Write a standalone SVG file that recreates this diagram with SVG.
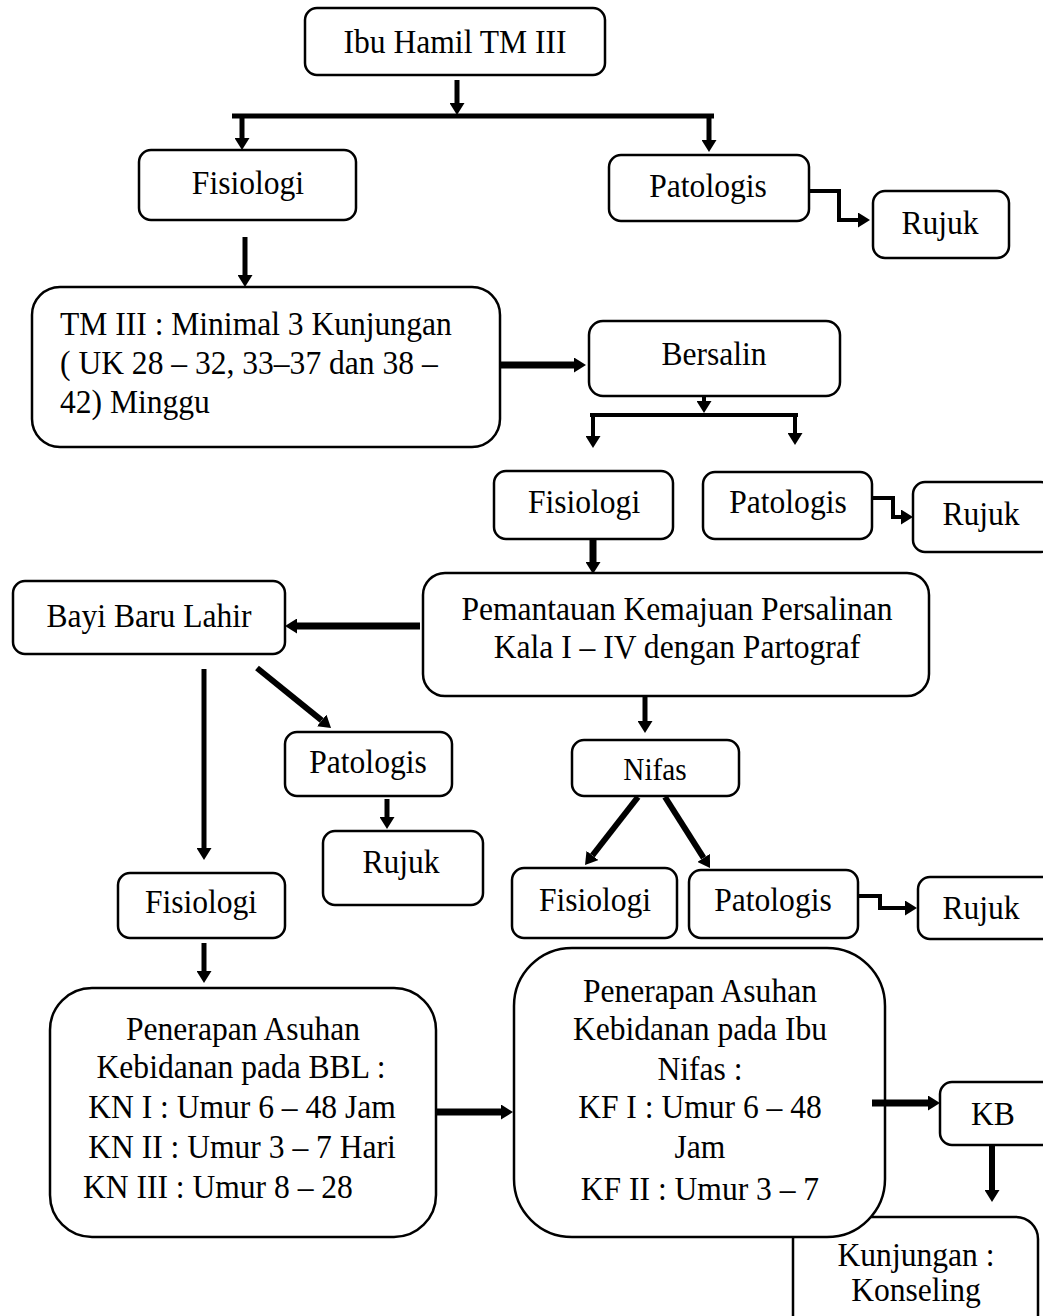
<svg xmlns="http://www.w3.org/2000/svg" width="1043" height="1316" viewBox="0 0 1043 1316">
<style>
.box{fill:#fff;stroke:#000;stroke-width:2.5}
.t{font-family:"Liberation Serif","Times New Roman",serif;font-size:34.5px;fill:#000;text-anchor:middle}
.ts{font-family:"Liberation Serif","Times New Roman",serif;font-size:34.5px;fill:#000;text-anchor:start}
.c{fill:none;stroke:#000;stroke-linejoin:miter}
.a{marker-end:url(#ah)}
</style>
<defs>
<marker id="ah" viewBox="0 0 12 15" markerWidth="12" markerHeight="15" refX="0" refY="7.5" orient="auto" markerUnits="userSpaceOnUse">
<path d="M0,0 L12,7.5 L0,15 z" fill="#000"/>
</marker>
</defs>
<rect width="1043" height="1316" fill="#fff"/>

<g id="kunjungan">
<rect class="box" x="793" y="1217" width="245" height="130" rx="22"/>
<g transform="scale(0.915,1)">
<text class="t" x="1001.1" y="1266">Kunjungan :</text>
<text class="t" x="1001.1" y="1301">Konseling</text>
</g>
</g>

<g id="ibu-hamil">
<rect class="box" x="305" y="8" width="300" height="67" rx="12"/>
<g transform="scale(0.915,1)"><text class="t" x="497.3" y="53">Ibu Hamil TM III</text></g>
</g>
<g id="fisiologi-1">
<rect class="box" x="139" y="150" width="217" height="70" rx="12"/>
<g transform="scale(0.915,1)"><text class="t" x="271" y="194">Fisiologi</text></g>
</g>
<g id="patologis-1">
<rect class="box" x="609" y="155" width="200" height="66" rx="12"/>
<g transform="scale(0.915,1)"><text class="t" x="773.8" y="197">Patologis</text></g>
</g>
<g id="rujuk-1">
<rect class="box" x="873" y="191" width="136" height="67" rx="12"/>
<g transform="scale(0.915,1)"><text class="t" x="1027.3" y="234">Rujuk</text></g>
</g>
<g id="tm-iii">
<rect class="box" x="32" y="287" width="468" height="160" rx="28"/>
<g transform="scale(0.915,1)">
<text class="ts" x="65.6" y="335">TM III : Minimal 3 Kunjungan</text>
<text class="ts" x="65.6" y="374">( UK 28 – 32, 33–37 dan 38 –</text>
<text class="ts" x="65.6" y="413">42) Minggu</text>
</g>
</g>
<g id="bersalin">
<rect class="box" x="589" y="321" width="251" height="75" rx="14"/>
<g transform="scale(0.915,1)"><text class="t" x="780.3" y="365">Bersalin</text></g>
</g>
<g id="fisiologi-2">
<rect class="box" x="494" y="471" width="179" height="68" rx="12"/>
<g transform="scale(0.915,1)"><text class="t" x="638.3" y="513">Fisiologi</text></g>
</g>
<g id="patologis-2">
<rect class="box" x="703" y="472" width="169" height="67" rx="12"/>
<g transform="scale(0.915,1)"><text class="t" x="861.2" y="513">Patologis</text></g>
</g>
<g id="rujuk-2">
<rect class="box" x="913" y="482" width="140" height="70" rx="12"/>
<g transform="scale(0.915,1)"><text class="t" x="1072.1" y="525">Rujuk</text></g>
</g>
<g id="pemantauan">
<rect class="box" x="423" y="573" width="506" height="123" rx="22"/>
<g transform="scale(0.915,1)">
<text class="t" x="739.9" y="620">Pemantauan Kemajuan Persalinan</text>
<text class="t" x="739.9" y="658">Kala I – IV dengan Partograf</text>
</g>
</g>
<g id="bayi-baru-lahir">
<rect class="box" x="13" y="581" width="272" height="73" rx="12"/>
<g transform="scale(0.915,1)"><text class="t" x="162.8" y="627">Bayi Baru Lahir</text></g>
</g>
<g id="patologis-3">
<rect class="box" x="285" y="732" width="167" height="64" rx="12"/>
<g transform="scale(0.915,1)"><text class="t" x="402.2" y="773">Patologis</text></g>
</g>
<g id="rujuk-3">
<rect class="box" x="323" y="831" width="160" height="74" rx="12"/>
<g transform="scale(0.915,1)"><text class="t" x="438.3" y="873">Rujuk</text></g>
</g>
<g id="nifas">
<rect class="box" x="572" y="740" width="167" height="56" rx="12"/>
<g transform="scale(0.915,1)"><text class="t" x="715.8" y="780" style="font-size:32px">Nifas</text></g>
</g>
<g id="fisiologi-3">
<rect class="box" x="118" y="873" width="167" height="65" rx="12"/>
<g transform="scale(0.915,1)"><text class="t" x="219.7" y="913">Fisiologi</text></g>
</g>
<g id="fisiologi-4">
<rect class="box" x="512" y="868" width="165" height="70" rx="12"/>
<g transform="scale(0.915,1)"><text class="t" x="650.3" y="911">Fisiologi</text></g>
</g>
<g id="patologis-4">
<rect class="box" x="689" y="870" width="169" height="68" rx="12"/>
<g transform="scale(0.915,1)"><text class="t" x="844.8" y="911">Patologis</text></g>
</g>
<g id="rujuk-4">
<rect class="box" x="918" y="877" width="140" height="62" rx="12"/>
<g transform="scale(0.915,1)"><text class="t" x="1072.1" y="919">Rujuk</text></g>
</g>
<g id="asuhan-bbl">
<rect class="box" x="50" y="988" width="386" height="249" rx="42"/>
<g transform="scale(0.915,1)">
<text class="t" x="265.6" y="1040">Penerapan Asuhan</text>
<text class="t" x="263.4" y="1078">Kebidanan pada BBL :</text>
<text class="t" x="264.5" y="1118">KN I : Umur 6 – 48 Jam</text>
<text class="t" x="264.5" y="1158">KN II : Umur 3 – 7 Hari</text>
<text class="ts" x="90.7" y="1198">KN III : Umur 8 – 28</text>
</g>
</g>
<g id="asuhan-nifas">
<rect class="box" x="514" y="948" width="371" height="289" rx="58"/>
<g transform="scale(0.915,1)">
<text class="t" x="765" y="1002">Penerapan Asuhan</text>
<text class="t" x="765" y="1040">Kebidanan pada Ibu</text>
<text class="t" x="765" y="1080">Nifas :</text>
<text class="t" x="765" y="1118">KF I : Umur 6 – 48</text>
<text class="t" x="765" y="1158">Jam</text>
<text class="t" x="765" y="1200">KF II : Umur 3 – 7</text>
</g>
</g>
<g id="kb">
<rect class="box" x="940" y="1082" width="115" height="63" rx="12"/>
<g transform="scale(0.915,1)"><text class="t" x="1085.2" y="1125">KB</text></g>
</g>

<g id="connectors">
<path class="c a" d="M457,80 V103" stroke-width="5"/>
<path class="c" d="M232,116 H714" stroke-width="5"/>
<path class="c a" d="M242,118 V138" stroke-width="5"/>
<path class="c a" d="M709,118 V140" stroke-width="5"/>
<path class="c a" d="M245,237 V275" stroke-width="5"/>
<path class="c a" d="M500,365 H574" stroke-width="7"/>
<path class="c a" d="M809,191 H839 V220 H858" stroke-width="4"/>
<path class="c a" d="M704,397 V401" stroke-width="4"/>
<path class="c" d="M590,415 H798" stroke-width="4"/>
<path class="c a" d="M593,415 V436" stroke-width="4"/>
<path class="c a" d="M795,415 V433" stroke-width="4"/>
<path class="c a" d="M872,498 H893 V517 H901" stroke-width="4"/>
<path class="c a" d="M593,540 V562" stroke-width="7"/>
<path class="c a" d="M420,626 H297" stroke-width="7"/>
<path class="c a" d="M204,669 V848" stroke-width="5"/>
<path class="c a" d="M257,668 L321.7,720.4" stroke-width="6"/>
<path class="c a" d="M645,697 V721" stroke-width="5"/>
<path class="c a" d="M387,799 V817" stroke-width="5"/>
<path class="c a" d="M638,797 L592.4,855.5" stroke-width="6"/>
<path class="c a" d="M665,797 L703.6,857.9" stroke-width="6"/>
<path class="c a" d="M858,896 H880 V908 H905" stroke-width="4"/>
<path class="c a" d="M204,943 V971" stroke-width="5"/>
<path class="c a" d="M437,1112 H501" stroke-width="7"/>
<path class="c a" d="M872,1103 H928" stroke-width="7"/>
<path class="c a" d="M992,1145 V1190" stroke-width="6"/>
</g>
</svg>
